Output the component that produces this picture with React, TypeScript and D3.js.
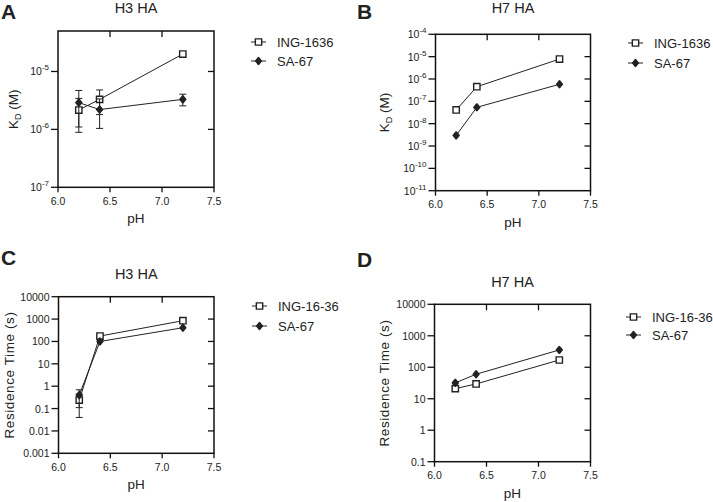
import { scaleLinear, scaleLog, line, symbol, symbolSquare, symbolDiamond } from "d3";

const width = 713;
const height = 502;
const font = "Liberation Sans, Arial, sans-serif";

// shared x values (pH)
const phValues = [6.2, 6.4, 7.2];
const phTicks = [6.0, 6.5, 7.0, 7.5];

// A: H3 HA, KD (M)
const kdH3Ing = [2.16e-6, 3.3e-6, 2.0e-5];
const kdH3IngErr = [1.27e-6, 1.5e-6, 0];
const kdH3Sa = [2.9e-6, 2.2e-6, 3.3e-6];
const kdH3SaErr = [1.8e-6, 1.16e-6, 0.75e-6];

// B: H7 HA, KD (M)
const kdH7Ing = [4.1e-8, 4.5e-7, 7.8e-6];
const kdH7Sa = [3.0e-9, 5.4e-8, 5.8e-7];

// C: H3 HA, residence time (s)
const rtH3Ing = [0.24, 174, 845];
const rtH3IngErr = [0.2, 0, 0];
const rtH3Sa = [0.4, 100, 410];
const rtH3SaErr = [0.29, 0, 0];

// D: H7 HA, residence time (s)
const rtH7Ing = [21, 29.5, 170];
const rtH7IngErr = [3, 0, 0];
const rtH7Sa = [32, 60, 355];

const kdTicksA = [1e-7, 1e-6, 1e-5];
const kdTicksB = [1e-11, 1e-10, 1e-9, 1e-8, 1e-7, 1e-6, 1e-5, 1e-4];
const rtTicksC = [0.001, 0.01, 0.1, 1, 10, 100, 1000, 10000];
const rtTicksD = [0.1, 1, 10, 100, 1000, 10000];
const rtTickLabels = ["0.001", "0.01", "0.1", "1", "10", "100", "1000", "10000"];

type Series = { name: string; values: number[]; err?: number[]; shape: "square" | "diamond" };

const sq = symbol().type(symbolSquare).size(40);
const dm = symbol().type(symbolDiamond).size(14);

function Marker({ shape, x, y }: { shape: string; x: number; y: number }) {
    return shape === "square" ? (
        <path d={sq() as string} transform={`translate(${x},${y})`} fill="#fff" stroke="#222" strokeWidth={1.4} />
    ) : (
        <path d={dm() as string} transform={`translate(${x},${y}) scale(1.4,1)`} fill="#222" stroke="#222" strokeWidth={1.3} strokeLinejoin="round" />
    );
}

function powLabel(v: number) {
    const e = Math.round(Math.log10(v));
    return (
        <>
            10<tspan dy={-5} fontSize={8}>{e}</tspan>
        </>
    );
}

function Panel(props: {
    letter: string; title: string; titleY: number; letterY: number; letterX: number;
    left: number; right: number; top: number; bottom: number;
    yDomain: [number, number]; yTicks: number[]; labelFn: (v: number, i: number) => any;
    yLabel: any; yLabelX: number; yLabelSpacing?: number;
    series: Series[]; legendX: number; legendY: number[];
}) {
    const { left, right, top, bottom } = props;
    const xScale = scaleLinear().domain([6.0, 7.5]).range([left, right]);
    const yScale = scaleLog().domain(props.yDomain).range([bottom, top]);
    const lineGen = line<number>()
        .x((d, i) => xScale(phValues[i]))
        .y((d) => yScale(d));
    const midY = (top + bottom) / 2;

    return (
        <g fontFamily={font} fill="#222">
            <text x={props.letterX} y={props.letterY} fontSize={21} fontWeight="bold">{props.letter}</text>
            <text x={(left + right) / 2} y={props.titleY} fontSize={14.5} textAnchor="middle">{props.title}</text>

            {/* frame */}
            <rect x={left} y={top} width={right - left} height={bottom - top} fill="none" stroke="#111" strokeWidth={1.5} />

            {props.yTicks.map((v, i) => (
                <g key={i}>
                    <line x1={left - 7} x2={left} y1={yScale(v)} y2={yScale(v)} stroke="#111" strokeWidth={1.3} />
                    {yScale(v) > top + 1 && yScale(v) < bottom - 1 && (
                        <line x1={right - 6} x2={right} y1={yScale(v)} y2={yScale(v)} stroke="#111" strokeWidth={1.3} />
                    )}
                    <text x={left - 9} y={yScale(v) + 4} fontSize={10.5} textAnchor="end">{props.labelFn(v, i)}</text>
                </g>
            ))}
            {phTicks.map((v, i) => (
                <g key={i}>
                    <line x1={xScale(v)} x2={xScale(v)} y1={bottom} y2={bottom + 5} stroke="#111" strokeWidth={1.3} />
                    {i > 0 && i < phTicks.length - 1 && (
                        <line x1={xScale(v)} x2={xScale(v)} y1={top} y2={top + 6} stroke="#111" strokeWidth={1.3} />
                    )}
                    <text x={xScale(v)} y={bottom + 17.5} fontSize={10.5} textAnchor="middle">{v.toFixed(1)}</text>
                </g>
            ))}
            <text x={(left + right) / 2} y={bottom + 36} fontSize={13.5} textAnchor="middle">pH</text>
            <text transform={`translate(${props.yLabelX},${midY}) rotate(-90)`} fontSize={13.5} textAnchor="middle" dy={4.5}
                letterSpacing={props.yLabelSpacing ?? 0}>{props.yLabel}</text>

            {props.series.map((s, si) => (
                <g key={si}>
                    <path d={lineGen(s.values) as string} fill="none" stroke="#222" strokeWidth={1} />
                    {s.err && s.values.map((v, i) => {
                        const e = s.err![i];
                        if (!e) return null;
                        const lo = Math.max(v - e, props.yDomain[0]);
                        const x = xScale(phValues[i]);
                        return (
                            <g key={i} stroke="#222" strokeWidth={1}>
                                <line x1={x} x2={x} y1={yScale(lo)} y2={yScale(v + e)} />
                                <line x1={x - 3.5} x2={x + 3.5} y1={yScale(lo)} y2={yScale(lo)} />
                                <line x1={x - 3.5} x2={x + 3.5} y1={yScale(v + e)} y2={yScale(v + e)} />
                            </g>
                        );
                    })}
                    {s.values.map((v, i) => (
                        <Marker key={i} shape={s.shape} x={xScale(phValues[i])} y={yScale(v)} />
                    ))}
                    <line x1={props.legendX} x2={props.legendX + 15} y1={props.legendY[si]} y2={props.legendY[si]} stroke="#222" strokeWidth={1} />
                    <Marker shape={s.shape} x={props.legendX + 7.5} y={props.legendY[si]} />
                    <text x={props.legendX + 26} y={props.legendY[si] + 4.5} fontSize={13}>{s.name}</text>
                </g>
            ))}
        </g>
    );
}

export default function App() {
    const kdLabel = (
        <>
            K<tspan dy={3} fontSize={9}>D</tspan><tspan dy={-3}> (M)</tspan>
        </>
    );
    return (
        <svg width={width} height={height} style={{ position: "absolute", left: 0, top: 0, background: "#fff" }}>
            <Panel
                letter="A" title="H3 HA" titleY={13} letterX={1} letterY={19}
                left={58} right={214} top={31} bottom={187.3}
                yDomain={[1e-7, 5e-5]} yTicks={kdTicksA} labelFn={(v) => powLabel(v)}
                yLabel={kdLabel} yLabelX={13}
                series={[
                    { name: "ING-1636", values: kdH3Ing, err: kdH3IngErr, shape: "square" },
                    { name: "SA-67", values: kdH3Sa, err: kdH3SaErr, shape: "diamond" },
                ]}
                legendX={251} legendY={[42, 61]}
            />
            <Panel
                letter="B" title="H7 HA" titleY={13} letterX={357} letterY={19}
                left={435.5} right={590.5} top={34.3} bottom={190.7}
                yDomain={[1e-11, 1e-4]} yTicks={kdTicksB} labelFn={(v) => powLabel(v)}
                yLabel={kdLabel} yLabelX={384}
                series={[
                    { name: "ING-1636", values: kdH7Ing, shape: "square" },
                    { name: "SA-67", values: kdH7Sa, shape: "diamond" },
                ]}
                legendX={628} legendY={[43, 63]}
            />
            <Panel
                letter="C" title="H3 HA" titleY={279} letterX={1} letterY={265}
                left={58.5} right={214} top={296.7} bottom={453.3}
                yDomain={[1e-3, 1e4]} yTicks={rtTicksC} labelFn={(v, i) => rtTickLabels[i]}
                yLabel="Residence Time (s)" yLabelX={9} yLabelSpacing={0.6}
                series={[
                    { name: "ING-16-36", values: rtH3Ing, err: rtH3IngErr, shape: "square" },
                    { name: "SA-67", values: rtH3Sa, err: rtH3SaErr, shape: "diamond" },
                ]}
                legendX={252} legendY={[306, 326]}
            />
            <Panel
                letter="D" title="H7 HA" titleY={286.7} letterX={357} letterY={267}
                left={434.5} right={590.5} top={304.3} bottom={461.7}
                yDomain={[0.1, 1e4]} yTicks={rtTicksD} labelFn={(v, i) => rtTickLabels[i + 2]}
                yLabel="Residence Time (s)" yLabelX={384} yLabelSpacing={0.6}
                series={[
                    { name: "ING-16-36", values: rtH7Ing, err: rtH7IngErr, shape: "square" },
                    { name: "SA-67", values: rtH7Sa, shape: "diamond" },
                ]}
                legendX={626} legendY={[317, 335]}
            />
        </svg>
    );
}
